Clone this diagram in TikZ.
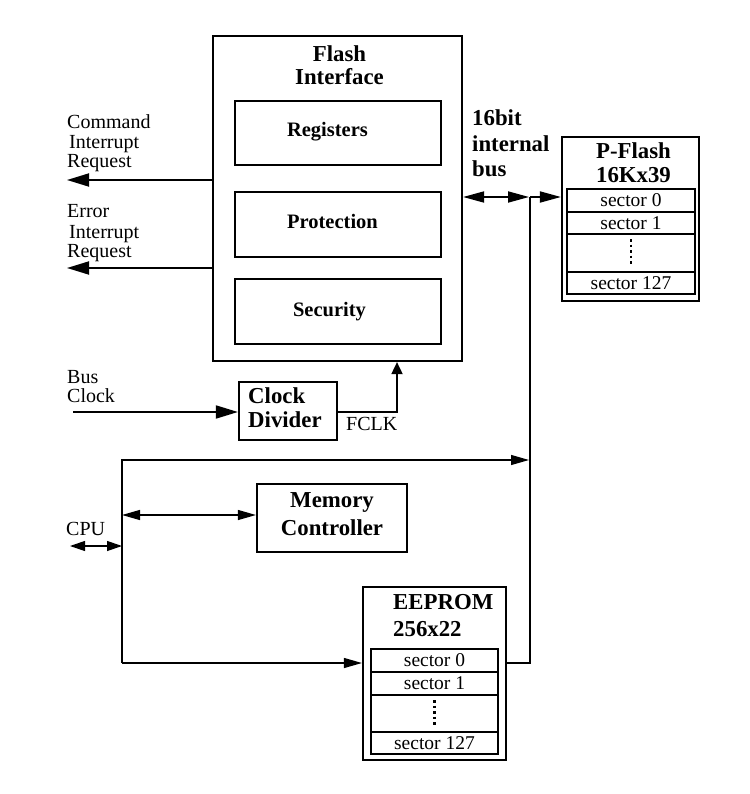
\documentclass[tikz,border=0pt]{standalone}
\usepackage{fontspec}
\setmainfont{Liberation Serif}
\usetikzlibrary{arrows.meta}
\begin{document}
\begin{tikzpicture}[x=1pt,y=-1pt,
  box/.style={draw,line width=2.2pt,inner sep=0pt},
  rowbox/.style={draw,line width=1.6pt,inner sep=0pt,font=\fontsize{19.5}{20}\selectfont},
  ttl/.style={font=\fontsize{22.8}{23}\selectfont\bfseries,inner sep=0pt,anchor=base},
  ttlw/.style={font=\fontsize{22.8}{23}\selectfont\bfseries,inner sep=0pt,anchor=base west},
  lbl/.style={font=\fontsize{20.5}{21}\selectfont\bfseries,inner sep=0pt,anchor=base},
  txt/.style={font=\fontsize{20}{20}\selectfont,inner sep=0pt,anchor=base west},
  heavy/.style={line width=1.8pt},
  light/.style={line width=1.2pt},
  bigtip/.style={-{Triangle[length=22pt,width=13pt]}},
  bustip/.style={-{Triangle[length=21pt,width=11pt]}},
  smalltip/.style={-{Triangle[length=18pt,width=10pt]}},
  dots/.style={line width=2.4pt,dash pattern=on 2.5pt off 3pt}
]
\useasboundingbox (0,0) rectangle (749,794);

% Flash interface
\node[box,minimum width=249pt,minimum height=325pt] (fi) at (337.5,198.5) {};
\node[ttl] (fit1) at (339.5,62) {Flash};
\node[ttl] (fit2) at (339.5,85) {Interface};
\node[box,minimum width=206pt,minimum height=64pt] (reg) at (338,133) {};
\node[box,minimum width=206pt,minimum height=65pt] (prot) at (338,224.5) {};
\node[box,minimum width=206pt,minimum height=65pt] (sec) at (338,311.5) {};
\node[lbl] (regt) at (327.5,137) {Registers};
\node[lbl] (prott) at (332.5,229) {Protection};
\node[lbl] (sect) at (329.5,316) {Security};

% left labels
\node[txt] (c1) at (67,129) {Command};
\node[txt] (c2) at (69,149) {Interrupt};
\node[txt] (c3) at (67,168) {Request};
\node[txt] (e1) at (67,218) {Error};
\node[txt] (e2) at (69,238) {Interrupt};
\node[txt] (e3) at (67,257) {Request};
\node[txt] (b1) at (67,383) {Bus};
\node[txt] (b2) at (67,402) {Clock};
\node[txt] (cpu) at (66,535) {CPU};
\node[txt] (fclkt) at (346,430) {FCLK};

\coordinate (cmdend) at (67,180);
\coordinate (errend) at (67,268);
\draw[heavy,bigtip] (fi.west |- cmdend) -- (cmdend);
\draw[heavy,bigtip] (fi.west |- errend) -- (errend);

% clock divider
\node[box,minimum width=98pt,minimum height=58pt] (cd) at (288,411) {};
\node[ttlw] (cdt1) at (248,403) {Clock};
\node[ttlw] (cdt2) at (248,427) {Divider};
\coordinate (bcstart) at (73,412);
\coordinate (fclk) at (397,412);
\draw[heavy,bigtip] (bcstart) -- (cd.west |- bcstart);
\draw[heavy,-{Triangle[length=12pt,width=11pt]}] (cd.east |- fclk) -- (fclk) -- (fclk |- fi.south);

% internal bus
\node[ttlw] (ib1) at (472,126) {16bit};
\node[ttlw] (ib2) at (472,152) {internal};
\node[ttlw] (ib3) at (472,177) {bus};
\coordinate (busTop) at (530,197);
\coordinate (busBot) at (530,663);

% P-Flash
\node[box,minimum width=137pt,minimum height=164pt] (pf) at (630.5,219) {};
\node[ttl] (pft1) at (633.5,159) {P-Flash};
\node[ttl] (pft2) at (633.5,183) {16Kx39};
\node[rowbox,minimum width=128pt,minimum height=23pt] (p0) at (631,200.5) {sector 0};
\node[rowbox,minimum width=128pt,minimum height=22pt] (p1) at (631,223) {sector 1};
\node[rowbox,minimum width=128pt,minimum height=38pt] (pd) at (631,253) {};
\node[rowbox,minimum width=128pt,minimum height=22pt] (p127) at (631,283) {sector 127};
\draw[dots] ([yshift=-6pt]pd.north) -- ([yshift=7pt]pd.south);

\draw[heavy,{Triangle[length=21pt,width=11pt]}-{Triangle[length=21pt,width=11pt]},shorten >=1pt] (fi.east |- busTop) -- (busTop);
\draw[heavy,bustip] (busTop) -- (pf.west |- busTop);

% EEPROM
\node[box,minimum width=143pt,minimum height=173pt] (ee) at (434.5,673.5) {};
\node[ttlw] (eet1) at (393,609) {EEPROM};
\node[ttlw] (eet2) at (393,636) {256x22};
\node[rowbox,minimum width=127pt,minimum height=23pt] (e0) at (434.5,660.5) {sector 0};
\node[rowbox,minimum width=127pt,minimum height=23pt] (e1r) at (434.5,683.5) {sector 1};
\node[rowbox,minimum width=127pt,minimum height=37pt] (ed) at (434.5,713.5) {};
\node[rowbox,minimum width=127pt,minimum height=22pt] (e127) at (434.5,743) {sector 127};
\draw[dots] ([yshift=-6pt]ed.north) -- ([yshift=6pt]ed.south);

\draw[heavy] (busTop) -- (busBot) -- (ee.east |- busBot);

% Memory controller
\node[box,minimum width=150pt,minimum height=68pt] (mc) at (332,518) {};
\node[ttl] (mct1) at (332,507) {Memory};
\node[ttl] (mct2) at (332,535) {Controller};

% CPU wiring
\coordinate (cpuTop) at (122,460);
\coordinate (cpuBot) at (122,663);
\coordinate (cpuMid) at (122,546);
\coordinate (cpuL) at (70,546);
\coordinate (mcl) at (122,515);
\draw[light,smalltip,shorten >=1pt] (cpuBot) -- (cpuTop) -- (busTop |- cpuTop);
\draw[light,smalltip] (cpuBot) -- (ee.west |- cpuBot);
\draw[light,{Triangle[length=18pt,width=10pt]}-{Triangle[length=18pt,width=10pt]}] (mcl) -- (mc.west |- mcl);
\draw[light,{Triangle[length=15pt,width=10pt]}-{Triangle[length=15pt,width=10pt]}] (cpuL) -- (cpuMid);
\end{tikzpicture}
\end{document}
